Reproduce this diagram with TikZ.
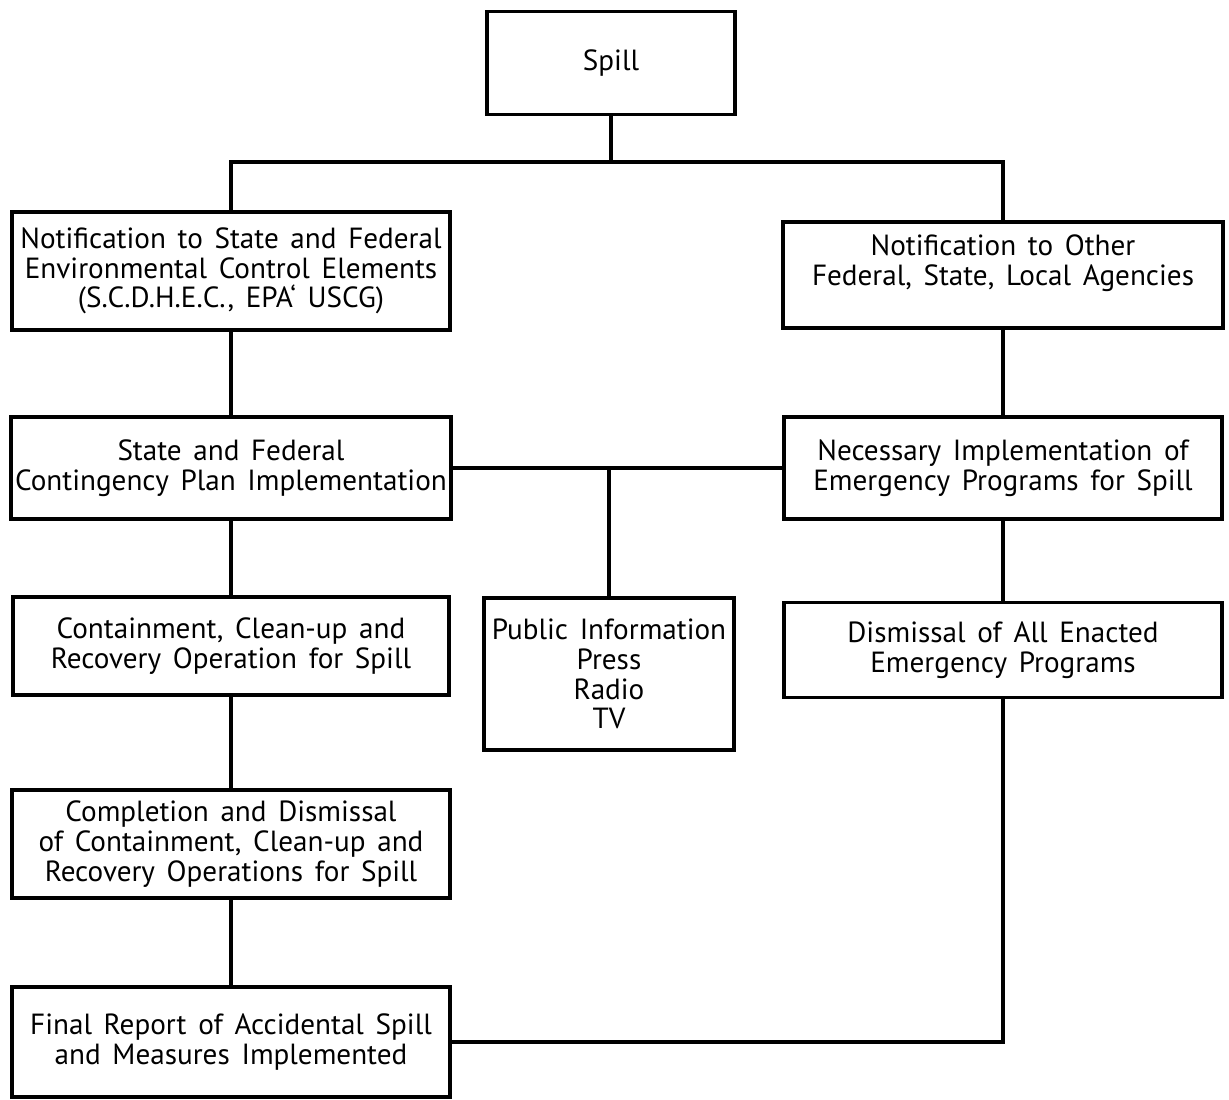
\documentclass[tikz,border=0pt]{standalone}
\usepackage{fontspec}
\setmainfont{PT Sans}[WordSpace=1.5]
\usetikzlibrary{positioning}
\tikzset{box/.style={draw, line width=2.2pt, align=center, inner sep=0pt,
    font=\fontsize{16.6}{16.9}\selectfont}}

\begin{document}
\begin{tikzpicture}[x=0.02cm, y=-0.02cm, line width=2.2pt]
    \useasboundingbox (0,0) rectangle (1229,1099);
    % top
    \node[box, minimum width=4.96cm, minimum height=2.06cm] (spill) at (611,63) {Spill};
    \coordinate (bus) at (611,162);
    % left column
    \node[box, minimum width=8.76cm, minimum height=2.36cm] (notifsf) at (231,271)
        {Notification to State and Federal\\Environmental Control Elements\\(S.C.D.H.E.C., EPA‘ USCG)};
    \node[box, minimum width=8.8cm, minimum height=2.04cm] (plan) at (231,468)
        {State and Federal\\Contingency Plan Implementation};
    \node[box, minimum width=8.72cm, minimum height=1.96cm] (cleanup) at (231,646)
        {Containment, Clean-up and\\Recovery Operation for Spill};
    \node[box, minimum width=8.76cm, minimum height=2.16cm] (complete) at (231,844)
        {Completion and Dismissal\\of Containment, Clean-up and\\Recovery Operations for Spill};
    \node[box, minimum width=8.76cm, minimum height=2.2cm] (report) at (231,1042)
        {Final Report of Accidental Spill\\and Measures Implemented};
    % middle
    \node[box, minimum width=5cm, minimum height=3.04cm] (public) at (609,674)
        {Public Information\\Press\\Radio\\TV};
    % right column
    \node[box, minimum width=8.8cm, minimum height=2.12cm] (notifother) at (1003,275)
        {Notification to Other\\Federal, State, Local Agencies\\\mbox{}};
    \node[box, minimum width=8.76cm, minimum height=2.04cm] (emerg) at (1003,468)
        {Necessary Implementation of\\Emergency Programs for Spill};
    \node[box, minimum width=8.76cm, minimum height=1.9cm] (dismiss) at (1003,650)
        {Dismissal of All Enacted\\Emergency Programs};
    % connectors
    \draw (spill) -- (bus);
    \draw (notifsf) -- (notifsf |- bus) -| (notifother);
    \draw (notifsf) -- (plan);
    \draw (notifother) -- (emerg);
    \draw (plan) -- (emerg);
    \draw (public) -- (public |- plan.east);
    \draw (plan) -- (cleanup);
    \draw (cleanup) -- (complete);
    \draw (complete) -- (report);
    \draw (emerg) -- (dismiss);
    \draw (dismiss) |- (report);
\end{tikzpicture}
\end{document}
